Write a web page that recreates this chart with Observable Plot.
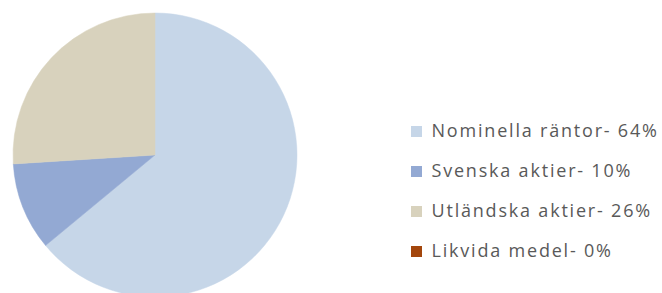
<!DOCTYPE html>
<html>
<head>
<meta charset="utf-8">
<script src="https://cdn.jsdelivr.net/npm/d3@7"></script>
<script src="https://cdn.jsdelivr.net/npm/@observablehq/plot@0.6"></script>
<style>
  html, body { margin: 0; padding: 0; background: #ffffff; }
  #wrap { position: relative; width: 662px; height: 293px; overflow: hidden; background: #fff; }
  #pie { position: absolute; left: 0; top: 0; }
  #legend { position: absolute; left: 400px; top: 0; }
</style>
</head>
<body>
<div id="wrap"><div id="pie"></div><div id="legend"></div></div>
<script>
const categories = ["Nominella räntor", "Svenska aktier", "Utländska aktier", "Likvida medel"];
const shares = [64, 10, 26, 0];
const colors = ["#c6d6e8", "#93a9d3", "#d8d2bd", "#a3460c"];

const data = categories.map((name, i) => ({name, value: shares[i], label: `${name}- ${shares[i]}%`}));
const color = Plot.scale({color: {domain: categories, range: colors}});

const pieMark = (index, scales, values, dims) => {
  const w = dims.width - dims.marginLeft - dims.marginRight;
  const r = w / 2;
  const cx = dims.marginLeft + r;
  const cy = dims.marginTop + r;
  const arcs = d3.pie().sort(null).value(d => d.value)(data);
  const arc = d3.arc().innerRadius(0).outerRadius(r);
  const g = d3.create("svg:g").attr("transform", `translate(${cx},${cy})`);
  g.selectAll("path").data(arcs.filter(a => a.data.value > 0)).join("path")
    .attr("d", arc)
    .attr("fill", a => color.apply(a.data.name))
    .attr("stroke", a => color.apply(a.data.name))
    .attr("stroke-width", 0.5);
  return g.node();
};

const pie = Plot.plot({
  width: 320, height: 293,
  marginLeft: 13, marginRight: 23, marginTop: 13, marginBottom: 0,
  style: {background: "transparent"},
  marks: [pieMark]
});
document.getElementById("pie").appendChild(pie);

const legend = Plot.plot({
  width: 262, height: 293,
  marginTop: 131, marginBottom: 42, marginLeft: 0, marginRight: 0,
  y: {type: "point", domain: categories, axis: null, padding: 0},
  color: {domain: categories, range: colors},
  style: {background: "transparent", fontFamily: "'Open Sans', sans-serif", letterSpacing: "1.8px"},
  marks: [
    Plot.dot(data, {y: "name", fill: "name", symbol: "square", r: 6.2, frameAnchor: "left", dx: 16}),
    Plot.text(data, {y: "name", text: "label", frameAnchor: "left", textAnchor: "start", dx: 31,
      fill: "#595959", fontSize: 18})
  ]
});
document.getElementById("legend").appendChild(legend);
</script>
</body>
</html>
